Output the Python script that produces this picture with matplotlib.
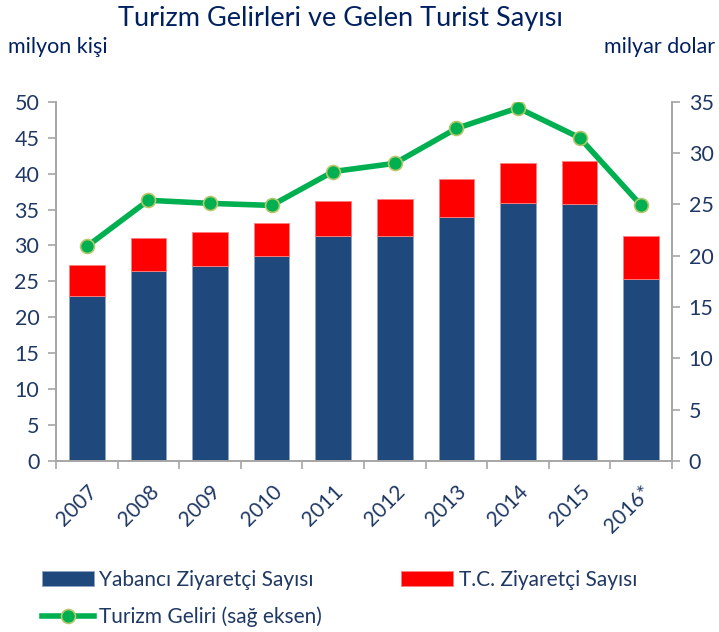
import matplotlib.pyplot as plt
import numpy as np

# === Veriler ===
yillar = ["2007", "2008", "2009", "2010", "2011", "2012", "2013", "2014", "2015", "2016*"]
yabanci = [23.0, 26.4, 27.2, 28.6, 31.3, 31.3, 33.9, 35.9, 35.7, 25.3]
toplam = [27.3, 31.1, 31.9, 33.1, 36.2, 36.4, 39.2, 41.5, 41.7, 31.3]
tc = [t - y for t, y in zip(toplam, yabanci)]
gelir = [20.9, 25.4, 25.1, 24.9, 28.2, 29.0, 32.4, 34.4, 31.5, 24.9]

LACIVERT = "#1F497D"
KIRMIZI = "#FF0000"
YESIL = "#00B050"
YAZI = "#1F3864"
BASLIK = "#002060"
GRI = "#A6A6A6"

plt.rcParams['font.family'] = ['Lato', 'DejaVu Sans']

fig = plt.figure(figsize=(7.19, 6.32), dpi=100)
ax = fig.add_axes([0.0779, 0.2706, 0.8567, 0.5684])
ax2 = ax.twinx()

x = np.arange(len(yillar))
b1 = ax.bar(x, yabanci, width=0.58, color=LACIVERT, edgecolor="#8EA3C0", linewidth=0.6,
            label="Yabancı Ziyaretçi Sayısı", zorder=2)
b2 = ax.bar(x, tc, bottom=yabanci, width=0.58, color=KIRMIZI, edgecolor="#FF8080", linewidth=0.6,
            label="T.C. Ziyaretçi Sayısı", zorder=2)
l1, = ax2.plot(x, gelir, color=YESIL, linewidth=4, marker='o', markersize=10,
               markerfacecolor=YESIL, markeredgecolor="#B5C76A", markeredgewidth=1.2,
               label="Turizm Geliri (sağ eksen)", zorder=3)

ax.set_xlim(-0.5, len(yillar) - 0.5)
ax.set_ylim(0, 50)
ax2.set_ylim(0, 35)
ax.set_yticks(range(0, 51, 5))
ax2.set_yticks(range(0, 36, 5))

ax.set_xticks(x)
ax.set_xticklabels(yillar, rotation=45, ha='right', rotation_mode='anchor')
ax.set_xticks(np.arange(-0.5, len(yillar)), minor=True)
ax.tick_params(axis='x', which='major', length=0, pad=15, labelsize=15, labelcolor=YAZI)
ax.tick_params(axis='x', which='minor', length=6, color=GRI, width=1.2)
ax.tick_params(axis='y', length=6, color=GRI, width=1.2, labelsize=15.5, labelcolor=YAZI, pad=6)
ax2.tick_params(axis='y', length=6, color=GRI, width=1.2, labelsize=15.5, labelcolor=YAZI, pad=6)

for a in (ax, ax2):
    a.spines['top'].set_visible(False)
    for s in ('left', 'right', 'bottom'):
        a.spines[s].set_color(GRI)
        a.spines[s].set_linewidth(1.2)

fig.text(0.473, 0.971, "Turizm Gelirleri ve Gelen Turist Sayısı", ha='center', va='center',
         fontsize=19.5, color=BASLIK)
fig.text(0.011, 0.925, "milyon kişi", ha='left', va='center', fontsize=15.5, color=BASLIK)
fig.text(0.995, 0.925, "milyar dolar", ha='right', va='center', fontsize=15.5, color=BASLIK)

leg = fig.legend([b1, l1, b2], [b1.get_label(), l1.get_label(), b2.get_label()],
                 loc='upper left', bbox_to_anchor=(42 / 719, 0.098), ncol=2, frameon=False,
                 fontsize=15, handlelength=2.5, handleheight=0.7, handletextpad=0.25,
                 columnspacing=3.8, labelspacing=0.78, borderpad=0, borderaxespad=0)
for t in leg.get_texts():
    t.set_color(YAZI)

fig.savefig("out.png", dpi=100)
